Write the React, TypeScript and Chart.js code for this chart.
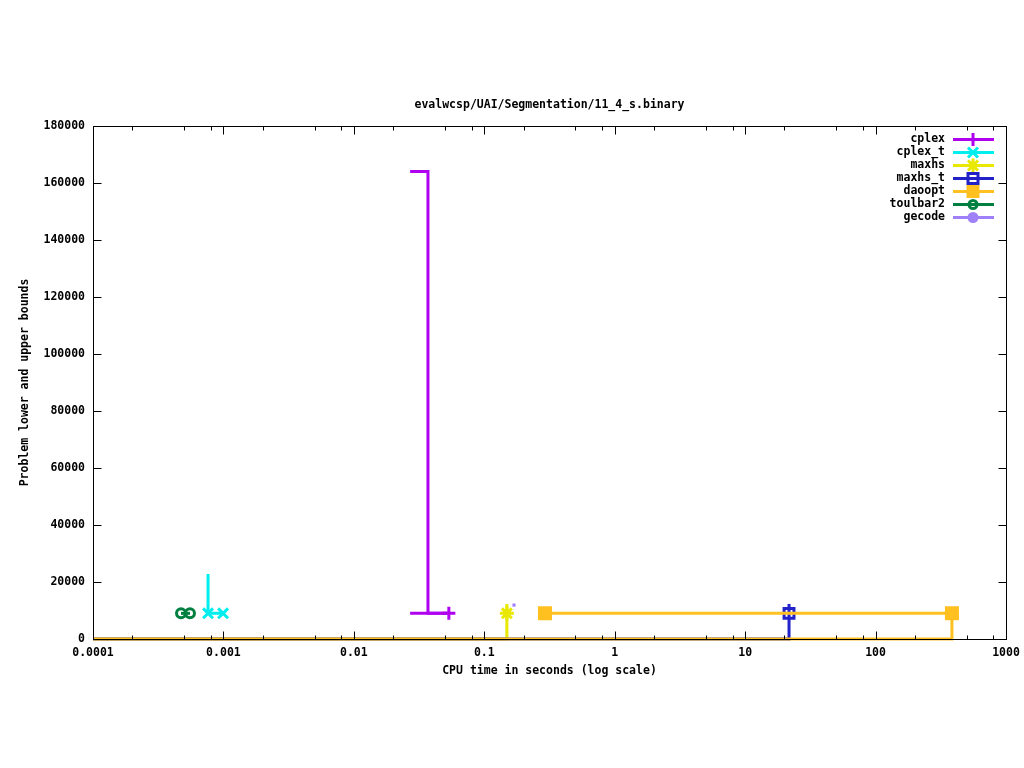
import React, { useEffect, useRef } from "react";
import { Chart, registerables } from "chart.js";

Chart.register(...registerables);

// ---------- text ----------
const TITLE = "evalwcsp/UAI/Segmentation/11_4_s.binary";
const X_LABEL = "CPU time in seconds (log scale)";
const Y_LABEL = "Problem lower and upper bounds";

// ---------- axes ----------
const X_TICKS = [0.0001, 0.001, 0.01, 0.1, 1, 10, 100, 1000];
const X_TICK_LABELS = ["0.0001", "0.001", "0.01", "0.1", "1", "10", "100", "1000"];
const X_MINOR_FACTORS = [2, 5, 8];
const Y_TICKS = [0, 20000, 40000, 60000, 80000, 100000, 120000, 140000, 160000, 180000];
const Y_TICK_LABELS = ["0", "20000", "40000", "60000", "80000", "100000", "120000", "140000", "160000", "180000"];

// ---------- legend ----------
const SOLVERS = ["cplex", "cplex_t", "maxhs", "maxhs_t", "daoopt", "toulbar2", "gecode"];
const COLORS = ["#b000f0", "#00eeee", "#e8e800", "#2222c8", "#ffc020", "#008040", "#a080f8"];
const MARKERS = ["cross", "crossRot", "star", "rectOpen", "rect", "circleOpen", "circle"];

// ---------- series (time in s, bound value) ----------
const cplexUpperT = [0.027, 0.037, 0.0535];
const cplexUpperV = [164000, 9000, 9000];
const cplexLowerT = [0.027, 0.0535];
const cplexLowerV = [9000, 9000];

const cplexTUpperT = [0.000762, 0.000762, 0.000994];
const cplexTUpperV = [22800, 9000, 9000];

const maxhsUpperT = [0.149, 0.149];
const maxhsUpperV = [12300, 9000];
const maxhsLowerT = [0.0001, 0.149];
const maxhsLowerV = [0, 9000];

const maxhsTUpperT = [21.7, 21.7];
const maxhsTUpperV = [12300, 9000];
const maxhsTLowerT = [0.0001, 21.7];
const maxhsTLowerV = [0, 9000];

const daooptUpperT = [0.292, 385];
const daooptUpperV = [9000, 9000];
const daooptLowerT = [0.0001, 385];
const daooptLowerV = [0, 9000];

const toulbar2T = [0.000473, 0.000554];
const toulbar2V = [9000, 9000];

const gecodeT = [0.169];
const gecodeV = [11900];

const FONT = "bold 11.5px 'DejaVu Sans Mono', 'Liberation Mono', monospace";

function pts(t: number[], v: number[]) {
  return t.map((x, i) => ({ x, y: v[i] }));
}

function pointStyleOf(m: string) {
  if (m === "rectOpen") return "rect";
  if (m === "circleOpen") return "circle";
  return m;
}

function makeDataset(
  solver: number,
  t: number[],
  v: number[],
  markerIdx: number[],
  radius: number,
  drawSeq: number
) {
  const color = COLORS[solver];
  const m = MARKERS[solver];
  const open = m === "rectOpen" || m === "circleOpen";
  return {
    label: SOLVERS[solver],
    data: pts(t, v),
    borderColor: color,
    backgroundColor: color,
    borderWidth: 3,
    stepped: "before" as const,
    pointStyle: pointStyleOf(m),
    pointRadius: t.map((_, i) => (markerIdx.includes(i) ? radius : 0)),
    pointBorderWidth: 3,
    pointBorderColor: color,
    pointBackgroundColor: open ? "rgba(0,0,0,0)" : color,
    order: 100 - drawSeq,
    clip: false as const,
  };
}

function drawMarker(ctx: CanvasRenderingContext2D, m: string, x: number, y: number, color: string) {
  ctx.save();
  ctx.strokeStyle = color;
  ctx.fillStyle = color;
  ctx.lineWidth = 3;
  ctx.beginPath();
  if (m === "cross") {
    ctx.moveTo(x - 6.5, y); ctx.lineTo(x + 6.5, y);
    ctx.moveTo(x, y - 6.5); ctx.lineTo(x, y + 6.5);
    ctx.stroke();
  } else if (m === "crossRot") {
    const d = 5;
    ctx.moveTo(x - d, y - d); ctx.lineTo(x + d, y + d);
    ctx.moveTo(x - d, y + d); ctx.lineTo(x + d, y - d);
    ctx.stroke();
  } else if (m === "star") {
    const d = 5;
    ctx.moveTo(x - d, y - d); ctx.lineTo(x + d, y + d);
    ctx.moveTo(x - d, y + d); ctx.lineTo(x + d, y - d);
    ctx.moveTo(x - 7, y); ctx.lineTo(x + 7, y);
    ctx.moveTo(x, y - 7); ctx.lineTo(x, y + 7);
    ctx.stroke();
  } else if (m === "rectOpen") {
    ctx.rect(x - 5, y - 5, 10, 10);
    ctx.stroke();
  } else if (m === "rect") {
    ctx.rect(x - 6.5, y - 6.5, 13, 13);
    ctx.fill();
  } else if (m === "circleOpen") {
    ctx.arc(x, y, 4, 0, Math.PI * 2);
    ctx.stroke();
  } else if (m === "circle") {
    ctx.arc(x, y, 5.5, 0, Math.PI * 2);
    ctx.fill();
  }
  ctx.restore();
}

const decorPlugin = {
  id: "gnuplotDecor",
  afterDatasetsDraw(chart: any) {
    const { ctx, chartArea: a, scales } = chart;
    const xs = scales.x;
    const ys = scales.y;
    const L = Math.round(a.left) + 0.5;
    const R = Math.round(a.right) + 0.5;
    const T = Math.round(a.top) + 0.5;
    const B = Math.round(a.bottom) + 0.5;
    ctx.save();
    ctx.strokeStyle = "#000";
    ctx.lineWidth = 1;
    ctx.beginPath();
    // x ticks
    X_TICKS.forEach((v) => {
      const px = Math.round(xs.getPixelForValue(v)) + 0.5;
      ctx.moveTo(px, B); ctx.lineTo(px, B - 8);
      ctx.moveTo(px, T); ctx.lineTo(px, T + 8);
      if (v < 1000) {
        X_MINOR_FACTORS.forEach((f) => {
          const mp = Math.round(xs.getPixelForValue(v * f)) + 0.5;
          ctx.moveTo(mp, B); ctx.lineTo(mp, B - 4);
          ctx.moveTo(mp, T); ctx.lineTo(mp, T + 4);
        });
      }
    });
    // y ticks
    Y_TICKS.forEach((v) => {
      const py = Math.round(ys.getPixelForValue(v)) + 0.5;
      ctx.moveTo(L, py); ctx.lineTo(L + 8, py);
      ctx.moveTo(R, py); ctx.lineTo(R - 8, py);
    });
    ctx.stroke();
    // border
    ctx.strokeRect(L, T, R - L, B - T);

    // labels
    ctx.fillStyle = "#000";
    ctx.font = FONT;
    ctx.textBaseline = "middle";
    ctx.textAlign = "center";
    X_TICKS.forEach((v, i) => {
      ctx.fillText(X_TICK_LABELS[i], xs.getPixelForValue(v), 653);
    });
    ctx.textAlign = "right";
    Y_TICKS.forEach((v, i) => {
      ctx.fillText(Y_TICK_LABELS[i], 85, ys.getPixelForValue(v));
    });
    ctx.textAlign = "center";
    const cx = (a.left + a.right) / 2;
    ctx.fillText(TITLE, cx, 105);
    ctx.fillText(X_LABEL, cx, 671);
    ctx.save();
    ctx.translate(25, (a.top + a.bottom) / 2);
    ctx.rotate(-Math.PI / 2);
    ctx.fillText(Y_LABEL, 0, 0);
    ctx.restore();

    // legend
    SOLVERS.forEach((name, i) => {
      const y = 139 + 13 * i;
      ctx.fillStyle = "#000";
      ctx.textAlign = "right";
      ctx.fillText(name, 945, y);
      ctx.save();
      ctx.strokeStyle = COLORS[i];
      ctx.lineWidth = 3;
      ctx.beginPath();
      ctx.moveTo(953, y + 0.5);
      ctx.lineTo(994, y + 0.5);
      ctx.stroke();
      ctx.restore();
      drawMarker(ctx, MARKERS[i], 973, y + 0.5, COLORS[i]);
    });
    ctx.restore();
  },
};

export default function App() {
  const ref = useRef<HTMLCanvasElement | null>(null);
  useEffect(() => {
    if (!ref.current) return;
    const datasets = [
      makeDataset(0, cplexLowerT, cplexLowerV, [], 0, 0),
      makeDataset(0, cplexUpperT, cplexUpperV, [2], 6.5, 1),
      makeDataset(1, cplexTUpperT, cplexTUpperV, [1, 2], 7, 2),
      makeDataset(2, maxhsLowerT, maxhsLowerV, [], 0, 3),
      makeDataset(2, maxhsUpperT, maxhsUpperV, [1], 7, 4),
      makeDataset(3, maxhsTLowerT, maxhsTLowerV, [], 0, 5),
      makeDataset(3, maxhsTUpperT, maxhsTUpperV, [1], 7, 6),
      makeDataset(4, daooptLowerT, daooptLowerV, [], 0, 7),
      makeDataset(4, daooptUpperT, daooptUpperV, [0, 1], 7.8, 8),
      makeDataset(5, toulbar2T, toulbar2V, [0, 1], 4.5, 9),
      { ...makeDataset(6, gecodeT, gecodeV, [0], 2.2, 10), pointStyle: "rect", pointBorderWidth: 0 },
    ];
    const chart = new Chart(ref.current, {
      type: "line",
      data: { datasets: datasets as any },
      options: {
        animation: false,
        responsive: false,
        devicePixelRatio: 1,
        layout: { padding: { left: 93, right: 18, top: 126, bottom: 129 } },
        plugins: { legend: { display: false }, title: { display: false }, tooltip: { enabled: false } },
        scales: {
          x: { type: "logarithmic", min: 0.0001, max: 1000, display: false },
          y: { type: "linear", min: 0, max: 180000, display: false },
        },
      },
      plugins: [decorPlugin],
    });
    return () => chart.destroy();
  }, []);
  return (
    <div style={{ position: "absolute", left: 0, top: 0, width: 1024, height: 768, background: "#fff" }}>
      <canvas ref={ref} width={1024} height={768} />
    </div>
  );
}
